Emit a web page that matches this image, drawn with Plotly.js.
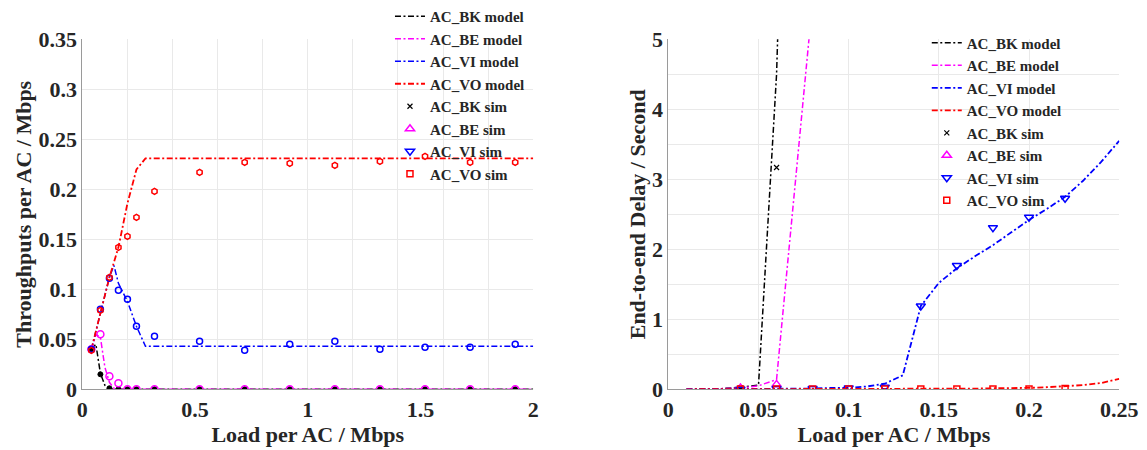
<!DOCTYPE html>
<html>
<head>
<meta charset="utf-8">
<script src="https://cdn.plot.ly/plotly-3.0.1.min.js"></script>
<style>html,body{margin:0;padding:0;background:#fff;}#chart{width:1147px;height:450px;}</style>
</head>
<body>
<div id="chart"></div>
<script>
// ---------- Left panel: throughput vs load ----------
const loadModelL = [0.04, 0.06, 0.08, 0.10, 0.12, 0.14, 0.16, 0.20, 0.24, 0.28, 0.40, 0.80, 1.20, 1.60, 2.00];
const thrBkModel = [0.040, 0.045, 0.016, 0.004, 0.0005, 0, 0, 0, 0, 0, 0, 0, 0, 0, 0];
const thrBeModel = [0.040, 0.055, 0.052, 0.022, 0.007, 0.001, 0, 0, 0, 0, 0, 0, 0, 0, 0];
const thrViModel = [0.040, 0.058, 0.077, 0.095, 0.112, 0.124, 0.106, 0.088, 0.063, 0.043, 0.043, 0.043, 0.043, 0.043, 0.043];
const thrVoModel = [0.040, 0.058, 0.077, 0.095, 0.112, 0.127, 0.142, 0.186, 0.220, 0.231, 0.231, 0.231, 0.231, 0.231, 0.231];

const loadSimL = [0.04, 0.08, 0.12, 0.16, 0.20, 0.24, 0.32, 0.52, 0.72, 0.92, 1.12, 1.32, 1.52, 1.72, 1.92];
const thrBkSim = [0.040, 0.015, 0.001, 0, 0, 0, 0, 0, 0, 0, 0, 0, 0, 0, 0];
const thrBeSim = [0.040, 0.055, 0.013, 0.006, 0, 0, 0, 0, 0, 0, 0, 0, 0, 0, 0];
const thrViSim = [0.040, 0.080, 0.111, 0.099, 0.090, 0.063, 0.053, 0.048, 0.039, 0.045, 0.048, 0.040, 0.042, 0.042, 0.045];
const thrVoSim = [0.039, 0.079, 0.112, 0.142, 0.153, 0.172, 0.198, 0.217, 0.227, 0.226, 0.224, 0.228, 0.233, 0.227, 0.227];

// ---------- Right panel: delay vs load ----------
const loadModelR = [0.01, 0.02, 0.03, 0.04, 0.05, 0.06, 0.07, 0.08, 0.09, 0.10, 0.11, 0.12, 0.13,
                    0.14, 0.15, 0.16, 0.17, 0.18, 0.19, 0.20, 0.21, 0.22, 0.23, 0.24, 0.25];
const delBkModel = [0, 0, 0.01, 0.03, 0.06, 4.5, 13, null, null, null, null, null, null,
                    null, null, null, null, null, null, null, null, null, null, null, null];
const delBeModel = [0, 0, 0.01, 0.02, 0.05, 0.14, 2.85, 5.55, null, null, null, null, null,
                    null, null, null, null, null, null, null, null, null, null, null, null];
const delViModel = [0, 0, 0, 0.01, 0.01, 0.01, 0.01, 0.01, 0.02, 0.02, 0.04, 0.08, 0.20,
                    1.19, 1.52, 1.73, 1.90, 2.06, 2.24, 2.42, 2.58, 2.75, 2.98, 3.25, 3.55];
const delVoModel = [0, 0, 0, 0, 0, 0, 0, 0, 0, 0, 0.005, 0.005, 0.01,
                    0.01, 0.01, 0.01, 0.01, 0.015, 0.015, 0.02, 0.03, 0.04, 0.06, 0.09, 0.15];

const loadSimR = [0.04, 0.06, 0.08, 0.10, 0.12, 0.14, 0.16, 0.18, 0.20, 0.22];
const delBkSim = [0.02, 3.17, null, null, null, null, null, null, null, null];
const delBeSim = [0.02, 0.07, null, null, null, null, null, null, null, null];
const delViSim = [0.0, 0.01, 0.01, 0.02, 0.03, 1.19, 1.77, 2.31, 2.46, 2.73];
const delVoSim = [0.005, 0.005, 0.005, 0.005, 0.005, 0.005, 0.005, 0.005, 0.005, 0.01];

const seriesNames = ['AC_BK model', 'AC_BE model', 'AC_VI model', 'AC_VO model',
                     'AC_BK sim', 'AC_BE sim', 'AC_VI sim', 'AC_VO sim'];

// ---------- styling ----------
const FONT = 'Liberation Serif, "Times New Roman", serif';
const TXT = '#262626';
const GRID = '#e9e9e9';
const AXL = '#9a9a9a';
const DASH = '6px,2.5px,2px,2.5px';
const colors = {bk: '#000000', be: '#ff00ff', vi: '#0000ff', vo: '#ff0000'};

function line(x, y, name, color, w, xa, ya, leg, show) {
  return {type: 'scatter', mode: 'lines', x: x, y: y, name: name,
          line: {color: color, width: w, dash: DASH},
          xaxis: xa, yaxis: ya, legend: leg, showlegend: show, hoverinfo: 'skip'};
}
function pts(x, y, name, color, sym, size, lw, xa, ya, leg, show) {
  return {type: 'scatter', mode: 'markers', x: x, y: y, name: name,
          marker: {color: color, symbol: sym, size: size, line: {color: color, width: lw}},
          xaxis: xa, yaxis: ya, legend: leg, showlegend: show, hoverinfo: 'skip'};
}

const traces = [
  // left panel
  line(loadModelL, thrBkModel, seriesNames[0], colors.bk, 1.5, 'x', 'y', 'legend', true),
  line(loadModelL, thrBeModel, seriesNames[1], colors.be, 1.5, 'x', 'y', 'legend', true),
  line(loadModelL, thrViModel, seriesNames[2], colors.vi, 1.5, 'x', 'y', 'legend', true),
  line(loadModelL, thrVoModel, seriesNames[3], colors.vo, 1.8, 'x', 'y', 'legend', true),
  pts(loadSimL, thrBkSim, seriesNames[4], colors.bk, 'circle', 5, 1, 'x', 'y', 'legend', false),
  pts(loadSimL, thrBeSim, seriesNames[5], colors.be, 'circle-open', 7, 1.5, 'x', 'y', 'legend', false),
  pts(loadSimL, thrViSim, seriesNames[6], colors.vi, 'circle-open', 6, 1.5, 'x', 'y', 'legend', false),
  pts(loadSimL, thrVoSim, seriesNames[7], colors.vo, 'hexagon-open', 6, 1.5, 'x', 'y', 'legend', false),
  // legend-only markers for left panel (symbols as in legend)
  pts([null], [null], seriesNames[4], colors.bk, 'x-thin', 5, 1.2, 'x', 'y', 'legend', true),
  pts([null], [null], seriesNames[5], colors.be, 'triangle-up-open', 8, 1.5, 'x', 'y', 'legend', true),
  pts([null], [null], seriesNames[6], colors.vi, 'triangle-down-open', 8, 1.5, 'x', 'y', 'legend', true),
  pts([null], [null], seriesNames[7], colors.vo, 'square-open', 6, 1.5, 'x', 'y', 'legend', true),
  // grid helper axis for left panel
  {type: 'scatter', mode: 'markers', x: [], y: [], xaxis: 'x3', yaxis: 'y', showlegend: false, hoverinfo: 'skip'},
  // right panel
  line(loadModelR, delBkModel, seriesNames[0], colors.bk, 1.5, 'x2', 'y2', 'legend2', true),
  line(loadModelR, delBeModel, seriesNames[1], colors.be, 1.5, 'x2', 'y2', 'legend2', true),
  line(loadModelR, delViModel, seriesNames[2], colors.vi, 1.8, 'x2', 'y2', 'legend2', true),
  line(loadModelR, delVoModel, seriesNames[3], colors.vo, 1.8, 'x2', 'y2', 'legend2', true),
  pts(loadSimR, delBkSim, seriesNames[4], colors.bk, 'x-thin', 5, 1.2, 'x2', 'y2', 'legend2', true),
  pts(loadSimR, delBeSim, seriesNames[5], colors.be, 'triangle-up-open', 8, 1.5, 'x2', 'y2', 'legend2', true),
  pts(loadSimR, delViSim, seriesNames[6], colors.vi, 'triangle-down-open', 8, 1.5, 'x2', 'y2', 'legend2', true),
  pts(loadSimR, delVoSim, seriesNames[7], colors.vo, 'square-open', 6, 1.5, 'x2', 'y2', 'legend2', true)
];

const tickFont = {family: FONT, size: 22, weight: 'bold', color: TXT};
const titleFont = {family: FONT, size: 22, weight: 'bold', color: TXT};
const legFont = {family: FONT, size: 15, weight: 'bold', color: TXT};
const yDom = [0.1349, 0.9127];

const layout = {
  width: 1147, height: 450,
  margin: {l: 0, r: 0, t: 0, b: 0},
  paper_bgcolor: '#fff', plot_bgcolor: '#fff',
  hovermode: false,
  xaxis: {domain: [0.0718, 0.4649], range: [0, 2], anchor: 'y',
          tickmode: 'array', tickvals: [0, 0.5, 1, 1.5, 2], ticktext: ['0', '0.5', '1', '1.5', '2'],
          showgrid: false, zeroline: false, showline: true, linecolor: AXL, linewidth: 1,
          ticks: '', tickfont: tickFont,
          title: {text: 'Load per AC / Mbps', font: titleFont, standoff: 5}},
  xaxis3: {overlaying: 'x', anchor: 'y', range: [0, 2], tick0: 0, dtick: 0.2,
           showgrid: true, gridcolor: GRID, showticklabels: false, ticks: '',
           showline: false, zeroline: false},
  yaxis: {domain: yDom, range: [0, 0.3502], anchor: 'x', dtick: 0.05, tick0: 0,
          showgrid: true, gridcolor: GRID, zeroline: false, showline: true, linecolor: AXL,
          ticks: '', tickfont: tickFont,
          title: {text: 'Throughputs per AC / Mbps', font: titleFont, standoff: 0}},
  xaxis2: {domain: [0.5827, 0.9759], range: [0, 0.2501], anchor: 'y2', dtick: 0.05, tick0: 0,
           showgrid: true, gridcolor: GRID, zeroline: false, showline: true, linecolor: AXL,
           ticks: '', tickfont: tickFont,
           title: {text: 'Load per AC / Mbps', font: titleFont, standoff: 5}},
  yaxis2: {domain: yDom, range: [0, 5.002], anchor: 'x2', dtick: 1, tick0: 0,
           showgrid: true, gridcolor: GRID, zeroline: false, showline: true, linecolor: AXL,
           minor: {dtick: 0.5, showgrid: true, gridcolor: GRID, ticks: ''},
           ticks: '', tickfont: tickFont,
           title: {text: 'End-to-end Delay / Second', font: titleFont, standoff: 0}},
  legend: {x: 0.340, y: 1, xanchor: 'left', yanchor: 'top', bgcolor: 'rgba(255,255,255,0)',
           borderwidth: 0, font: legFont, tracegroupgap: 0, traceorder: 'normal'},
  legend2: {x: 0.808, y: 0.941, xanchor: 'left', yanchor: 'top', bgcolor: 'rgba(255,255,255,0)',
            borderwidth: 0, font: legFont, tracegroupgap: 0, traceorder: 'normal'},
  showlegend: true
};

Plotly.newPlot('chart', traces, layout, {displayModeBar: false, staticPlot: true});
</script>
</body>
</html>
